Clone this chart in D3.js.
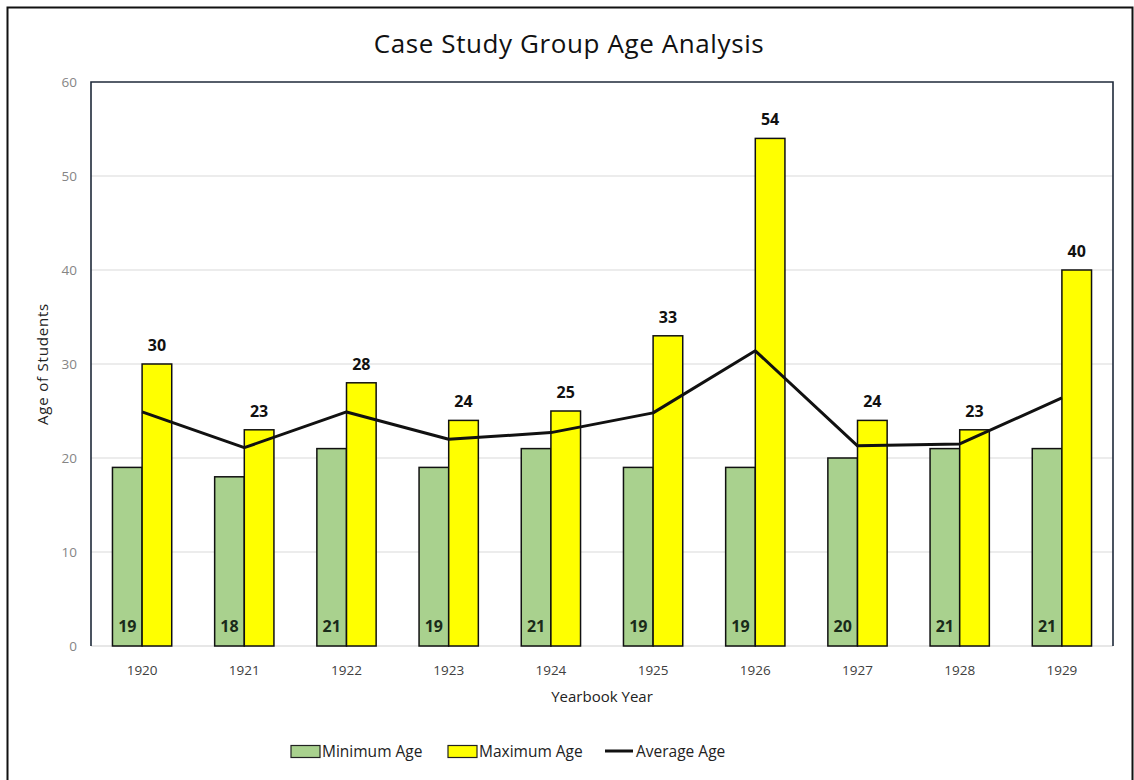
<!DOCTYPE html>
<html><head><meta charset="utf-8">
<script src="https://cdn.jsdelivr.net/npm/d3@7"></script>
<style>body{margin:0;background:#fff}svg{display:block}text{font-family:"Open Sans",sans-serif}</style>
</head><body>
<svg id="c" width="1134" height="780"></svg>
<script>
const years = ["1920","1921","1922","1923","1924","1925","1926","1927","1928","1929"];
const minAge = [19,18,21,19,21,19,19,20,21,21];
const maxAge = [30,23,28,24,25,33,54,24,23,40];
const avgAge = [24.9,21.1,24.9,22.0,22.7,24.8,31.4,21.3,21.5,26.4];
const yTicks = [0,10,20,30,40,50,60];
const seriesNames = ["Minimum Age","Maximum Age","Average Age"];

const svg = d3.select("#c");
const L=91,R=1113,T=82,B=646;
// outer frame
svg.append("path").attr("d","M7.5,790V7.5H1132.5V790").attr("fill","none").attr("stroke","#111").attr("stroke-width",2);

const x = d3.scaleBand().domain(years).range([L,R]).paddingInner(0.42).paddingOuter(0.21);
const x2 = d3.scaleBand().domain(["min","max"]).range([0,x.bandwidth()]);
const y = d3.scaleLinear().domain([0,60]).range([B,T]);

// gridlines
svg.append("g").selectAll("line").data(yTicks.filter(d=>d>0&&d<60)).join("line")
  .attr("x1",L).attr("x2",R).attr("y1",d=>y(d)).attr("y2",d=>y(d))
  .attr("stroke","#d9d9d9").attr("stroke-width",1);
// bottom axis line
svg.append("line").attr("x1",L).attr("x2",R).attr("y1",B).attr("y2",B).attr("stroke","#d0d0d0").attr("stroke-width",1.2);
// plot border top/left/right
svg.append("path").attr("d",`M${L},${B}V${T}H${R}V${B}`).attr("fill","none").attr("stroke","#1f2a3a").attr("stroke-width",1.6);

// y axis
const ya = svg.append("g").attr("transform",`translate(${L},0)`).call(d3.axisLeft(y).tickValues(yTicks).tickSize(0).tickPadding(14));
ya.select(".domain").remove();
ya.attr("font-size",null).attr("font-family",null);
ya.selectAll("text").attr("fill","#858585").style("font-size","13.5px");

// x axis
const xa = svg.append("g").attr("transform",`translate(0,${B})`).call(d3.axisBottom(x).tickSize(0).tickPadding(19));
xa.select(".domain").remove();
xa.attr("font-size",null).attr("font-family",null);
xa.selectAll("text").attr("fill","#404040").style("font-size","13.5px");

// bars
const g = svg.append("g");
g.selectAll("rect.min").data(years).join("rect").attr("class","min")
  .attr("x",d=>x(d)+x2("min")).attr("width",x2.bandwidth())
  .attr("y",(d,i)=>y(minAge[i])).attr("height",(d,i)=>y(0)-y(minAge[i]))
  .attr("fill","#a9d18e").attr("stroke","#111").attr("stroke-width",1.5);
g.selectAll("rect.max").data(years).join("rect").attr("class","max")
  .attr("x",d=>x(d)+x2("max")).attr("width",x2.bandwidth())
  .attr("y",(d,i)=>y(maxAge[i])).attr("height",(d,i)=>y(0)-y(maxAge[i]))
  .attr("fill","#ffff00").attr("stroke","#111").attr("stroke-width",1.5);

// line
const line = d3.line().x((d,i)=>x(years[i])+x.bandwidth()/2).y(d=>y(d));
svg.append("path").datum(avgAge).attr("d",line).attr("fill","none").attr("stroke","#111").attr("stroke-width",3).attr("stroke-linejoin","round");

// labels
svg.append("g").selectAll("text").data(years).join("text")
  .attr("x",d=>x(d)+x2("max")+x2.bandwidth()/2).attr("y",(d,i)=>y(maxAge[i])-13)
  .attr("text-anchor","middle").style("font-size","16px").style("font-weight","bold").attr("fill","#111")
  .text((d,i)=>maxAge[i]);
svg.append("g").selectAll("text").data(years).join("text")
  .attr("x",d=>x(d)+x2("min")+x2.bandwidth()/2).attr("y",y(0)-14)
  .attr("text-anchor","middle").style("font-size","16px").style("font-weight","bold").attr("fill","#1a2a1a")
  .text((d,i)=>minAge[i]);

// titles
svg.append("text").attr("x",569).attr("y",53).attr("text-anchor","middle").style("font-size","26px").style("letter-spacing","0.6px").attr("fill","#111").text("Case Study Group Age Analysis");
svg.append("text").attr("x",(L+R)/2).attr("y",702).attr("text-anchor","middle").style("font-size","15px").attr("fill","#222").text("Yearbook Year");
svg.append("text").attr("transform","translate(48,364) rotate(-90)").attr("text-anchor","middle").style("font-size","15px").style("letter-spacing","0.8px").attr("fill","#222").text("Age of Students");

// legend
const lg = svg.append("g").attr("transform","translate(0,751)");
const legendItems = [
  {name:seriesNames[0], type:"rect", fill:"#a9d18e", x:291},
  {name:seriesNames[1], type:"rect", fill:"#ffff00", x:448},
  {name:seriesNames[2], type:"line", x:605}
];
legendItems.forEach(it=>{
  if(it.type==="rect"){
    lg.append("rect").attr("x",it.x).attr("y",-5.5).attr("width",29).attr("height",12).attr("fill",it.fill).attr("stroke","#222").attr("stroke-width",1.2);
  } else {
    lg.append("line").attr("x1",it.x).attr("x2",it.x+28).attr("y1",0).attr("y2",0).attr("stroke","#111").attr("stroke-width",3);
  }
  lg.append("text").attr("x",it.x+31).attr("y",5.5).style("font-size","15.5px").attr("fill","#222").text(it.name);
});
</script>
</body></html>
